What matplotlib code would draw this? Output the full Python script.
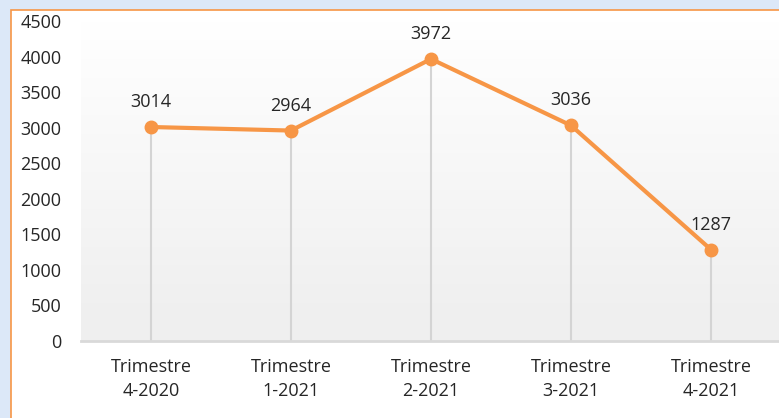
import numpy as np
import matplotlib.pyplot as plt
from matplotlib.patches import Rectangle

categories = ["Trimestre\n4-2020", "Trimestre\n1-2021", "Trimestre\n2-2021",
              "Trimestre\n3-2021", "Trimestre\n4-2021"]
values = [3014, 2964, 3972, 3036, 1287]
yticks = [0, 500, 1000, 1500, 2000, 2500, 3000, 3500, 4000, 4500]

orange = "#F79646"
plt.rcParams['font.family'] = ['Open Sans', 'DejaVu Sans']

W, H = 779, 418
fig = plt.figure(figsize=(W / 100, H / 100), dpi=100)
fig.patch.set_facecolor("#DCE8F8")

# white chart box with orange border (behind the axes)
fig.patches.append(Rectangle((11 / W, -0.1), 1.0, 1 - 10 / H + 0.1, transform=fig.transFigure,
                             facecolor="white", edgecolor=orange, linewidth=1.2, zorder=-5))

ax = fig.add_axes([81 / W, 1 - 341 / H, 700 / W, (341 - 21.5) / H])
ax.set_zorder(1)
ax.patch.set_alpha(0)
ax.set_xlim(-0.5, len(values) - 0.5)
ax.set_ylim(0, 4500)

# soft gradient in plot area
grad = np.linspace(0, 1, 256).reshape(-1, 1)
grad = np.clip((grad - 0.1) / 0.9, 0, 1)
cols = np.ones((256, 1, 3))
cols[:, 0, :] = (1 - grad) * 0.94 + grad * 1.0
ax.imshow(cols, extent=[-0.5, len(values) - 0.5, 0, 4500], aspect="auto",
          origin="lower", zorder=0)

x = np.arange(len(values))
ax.vlines(x, 0, values, color="#D4D4D4", linewidth=1.5, zorder=1)
ax.plot(x, values, color=orange, linewidth=3, marker="o", markersize=9,
        solid_capstyle="round", zorder=3)
for xi, v in zip(x, values):
    ax.annotate(str(v), (xi, v), xytext=(0, 18), textcoords="offset points",
                ha="center", va="center", fontsize=13, color="#262626")

for s in ["top", "right", "left"]:
    ax.spines[s].set_visible(False)
ax.spines["bottom"].set_color("#D9D9D9")
ax.spines["bottom"].set_linewidth(2)

ax.set_yticks(yticks)
ax.set_xticks(x)
ax.set_xticklabels(categories, linespacing=1.45)
ax.tick_params(axis="y", length=0, pad=14, labelsize=13, labelcolor="#262626")
ax.tick_params(axis="x", length=0, pad=12, labelsize=13, labelcolor="#262626")

fig.savefig("out.png", dpi=100, facecolor=fig.get_facecolor())
